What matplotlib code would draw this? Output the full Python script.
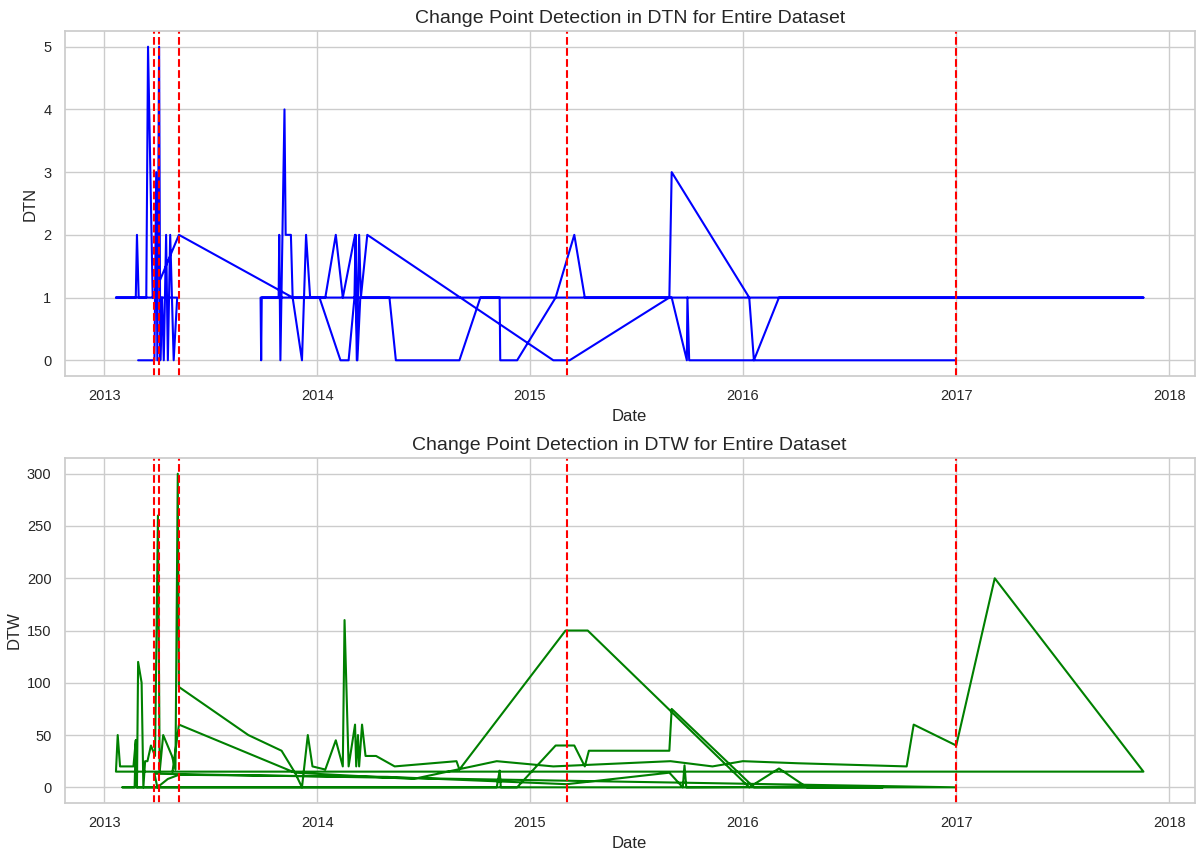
import matplotlib
matplotlib.use("Agg")
from matplotlib import pyplot as plt
import seaborn as sns
import pandas as pd

# DTN series (raw order, not sorted by date)
dtn_dates = [
    # block a
    "2013-02-28", "2013-03-28", "2013-03-31", "2013-04-02", "2013-04-05", "2013-04-07",
    "2013-04-10", "2013-04-13", "2013-04-17", "2013-04-20", "2013-04-24", "2013-04-27",
    "2013-04-30", "2013-05-06",
    # block b
    "2013-01-21", "2013-02-24", "2013-02-26", "2013-03-01", "2013-03-14", "2013-03-17",
    "2013-03-25", "2013-05-09", "2013-11-20", "2013-12-06", "2013-12-13", "2013-12-20",
    "2014-01-15", "2014-02-02", "2014-02-14", "2014-03-07", "2014-03-10", "2014-03-14",
    "2014-03-17", "2014-03-28", "2015-02-10", "2015-03-10", "2015-08-28", "2015-09-01",
    "2016-01-12", "2016-01-20", "2016-03-03", "2017-11-18",
    # block c
    "2013-09-26", "2013-09-27", "2013-09-28", "2013-10-27", "2013-10-28", "2013-10-30",
    "2013-11-06", "2013-11-08", "2013-11-17", "2013-11-20", "2014-01-05", "2014-02-10",
    "2014-02-24", "2014-03-06", "2014-03-08", "2014-03-11", "2014-03-16", "2014-05-05",
    "2014-05-16", "2014-09-02", "2014-10-08", "2014-11-10", "2014-11-11", "2014-12-10",
    "2015-02-14", "2015-03-18", "2015-04-05", "2015-09-01", "2015-09-27", "2015-09-28",
    "2015-10-01", "2016-12-31",
]
dtn_values = [
    0, 0, 3, 0, 5, 0,
    1, 0, 2, 0, 2, 1,
    0, 1,
    1, 1, 2, 1, 1, 5,
    1, 2, 1, 0, 2, 1,
    1, 2, 1, 2, 0, 2,
    1, 2, 0, 0, 1, 3,
    1, 0, 1, 1,
    1, 0, 1, 1, 2, 0,
    4, 2, 2, 1, 1, 0,
    0, 1, 2, 0, 1, 1,
    0, 0, 1, 1, 0, 0,
    1, 2, 1, 1, 0, 1,
    0, 0,
]

# DTW series (raw order)
dtw_dates = [
    # block 3
    "2013-04-28", "2013-05-09", "2013-11-24", "2014-06-15", "2014-11-05", "2015-02-10",
    "2015-08-30", "2015-11-10", "2016-01-01", "2016-04-05", "2016-10-08", "2016-10-20",
    "2017-01-01", "2017-03-08", "2017-11-18",
    # block 1
    "2013-01-21", "2013-01-24", "2013-01-28", "2013-02-20", "2013-02-24", "2013-02-26",
    "2013-02-28", "2013-03-06", "2013-03-09", "2013-03-12", "2013-03-16", "2013-03-22",
    "2013-03-29", "2013-04-03", "2013-04-06", "2013-04-12", "2013-04-27", "2013-05-03",
    "2013-05-07", "2013-05-09", "2013-09-05", "2013-11-01", "2013-11-24", "2013-12-06",
    "2013-12-16", "2013-12-24", "2014-01-15", "2014-02-02", "2014-02-14", "2014-02-17",
    "2014-02-24", "2014-03-07", "2014-03-09", "2014-03-12", "2014-03-14", "2014-03-19",
    "2014-03-25", "2014-04-12", "2014-05-14", "2014-08-28", "2014-09-02", "2015-03-03",
    "2015-04-10", "2016-01-12", "2016-03-03", "2016-04-20", "2016-08-28",
    # block 2
    "2013-02-01", "2013-02-22", "2013-02-24", "2013-02-26", "2013-05-01", "2014-11-05",
    "2014-11-10", "2014-11-12", "2014-12-10", "2015-02-14", "2015-03-18", "2015-04-05",
    "2015-04-12", "2015-08-28", "2015-09-01", "2016-01-20", "2016-12-31",
    # block 4
    "2013-03-28", "2013-04-02", "2013-04-20", "2013-05-09", "2014-05-01", "2015-03-05",
    "2015-08-28", "2015-09-20", "2015-09-23", "2015-09-26", "2016-08-28",
]
dtw_values = [
    15, 60, 14, 8, 25, 20,
    25, 20, 25, 23, 20, 60,
    40, 200, 15,
    15, 50, 20, 20, 45, 0,
    120, 100, 0, 25, 25, 40,
    30, 260, 15, 50, 30, 17,
    300, 96, 50, 35, 14, 0,
    50, 20, 17, 45, 20, 160,
    20, 60, 20, 50, 20, 60,
    30, 30, 20, 25, 17, 150,
    150, 0, 18, 0, 0,
    0, 0, 45, 0, 0, 0,
    16, 0, 0, 40, 40, 20,
    35, 35, 75, 0, 0,
    13, 0, 8, 12, 10, 3,
    14, 0, 21, 0, 1,
]

change_points = ["2013-03-28", "2013-04-04", "2013-05-09", "2015-03-05", "2017-01-01"]

sns.set_theme(style="whitegrid")
plt.rcParams['font.family'] = ['Liberation Sans', 'DejaVu Sans']

fig, axes = plt.subplots(2, 1, figsize=(11.96, 8.5), dpi=100)

panels = [
    (axes[0], dtn_dates, dtn_values, 'blue', 'DTN'),
    (axes[1], dtw_dates, dtw_values, 'green', 'DTW'),
]
for ax, d, v, color, name in panels:
    ax.plot(pd.to_datetime(d), v, color=color, linewidth=1.5)
    for cp in change_points:
        ax.axvline(pd.to_datetime(cp), color='red', linestyle='--', linewidth=1.5)
    ax.set_title('Change Point Detection in %s for Entire Dataset' % name, fontsize=14)
    ax.set_xlabel('Date', fontsize=12)
    ax.set_ylabel(name, fontsize=12)
    ax.tick_params(labelsize=10.5)

plt.subplots_adjust(left=0.054, right=0.999, top=0.9635, bottom=0.0553, hspace=0.238)
plt.savefig('out.png')
